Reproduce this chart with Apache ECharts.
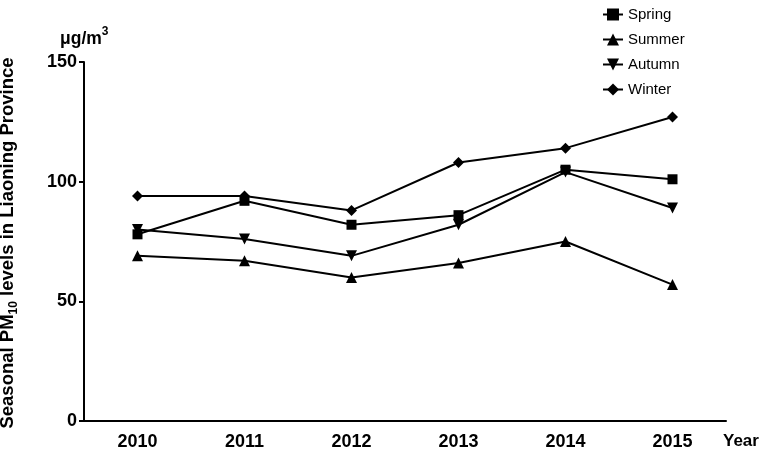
<!DOCTYPE html>
<html>
<head>
<meta charset="utf-8">
<script src="https://cdn.jsdelivr.net/npm/echarts@6/dist/echarts.min.js"></script>
<style>html,body{margin:0;padding:0;background:#fff}#c{width:765px;height:451px}</style>
</head>
<body>
<div id="c"></div>
<script>
var years = ['2010','2011','2012','2013','2014','2015'];
var spring = [78, 92, 82, 86, 105, 101];
var summer = [69, 67, 60, 66, 75, 57];
var autumn = [80, 76, 69, 82, 104, 89];
var winter = [94, 94, 88, 108, 114, 127];
var yTicks = [0, 50, 100, 150];

var chart = echarts.init(document.getElementById('c'));
var F = 'Liberation Sans, Arial, sans-serif';
function mk(name, data, symbol, size, rot) {
  return {
    name: name, type: 'line', data: data,
    symbol: symbol, symbolSize: size, symbolRotate: rot || 0,
    lineStyle: {color: '#000', width: 2},
    itemStyle: {color: '#000'},
    emphasis: {disabled: true},
    animation: false
  };
}
chart.setOption({
  animation: false,
  grid: {left: 84, right: 39, top: 62, bottom: 30},
  legend: {
    orient: 'vertical', left: 597, top: 2,
    itemWidth: 20, itemHeight: 15, itemGap: 10,
    textStyle: {fontFamily: F, fontSize: 15, color: '#000'},
    data: ['Spring','Summer','Autumn','Winter']
  },
  xAxis: {
    type: 'category', data: years, boundaryGap: true,
    axisLine: {lineStyle: {color: '#000', width: 2}},
    axisTick: {length: 4, lineStyle: {color: '#000', width: 2}},
    axisLabel: {color: '#000', fontFamily: F, fontWeight: 'bold', fontSize: 18, margin: 12}
  },
  yAxis: {
    type: 'value', min: yTicks[0], max: yTicks[yTicks.length-1], interval: 50,
    splitLine: {show: false},
    axisLine: {show: true, lineStyle: {color: '#000', width: 2}},
    axisTick: {show: true, length: 5, lineStyle: {color: '#000', width: 2}},
    axisLabel: {color: '#000', fontFamily: F, fontWeight: 'bold', fontSize: 18, margin: 7}
  },
  graphic: [
    {type: 'text', x: 9, y: 243, rotation: Math.PI/2,
     style: {text: '{a|Seasonal PM}{s|10}{a| levels in Liaoning Province}',
       textAlign: 'center', textVerticalAlign: 'middle',
       rich: {a: {fontFamily: F, fontWeight: 'bold', fontSize: 18.5, lineHeight: 22, verticalAlign: 'top', fill: '#000'},
              s: {fontFamily: F, fontWeight: 'bold', fontSize: 12, lineHeight: 12, verticalAlign: 'bottom', fill: '#000'}}}},
    {type: 'text', x: 60, y: 26,
     style: {text: '{a|μg/m}{s|3}',
       rich: {a: {fontFamily: F, fontWeight: 'bold', fontSize: 17.5, lineHeight: 22, verticalAlign: 'bottom', fill: '#000'},
              s: {fontFamily: F, fontWeight: 'bold', fontSize: 12, lineHeight: 12, verticalAlign: 'top', fill: '#000'}}}},
    {type: 'text', x: 723, y: 433,
     style: {text: 'Year', fontFamily: F, fontWeight: 'bold', fontSize: 17, fill: '#000'}}
  ],
  series: [
    mk('Spring', spring, 'rect', 10),
    mk('Summer', summer, 'triangle', 11),
    mk('Autumn', autumn, 'triangle', 11, 180),
    mk('Winter', winter, 'diamond', 11)
  ]
});
</script>
</body>
</html>
